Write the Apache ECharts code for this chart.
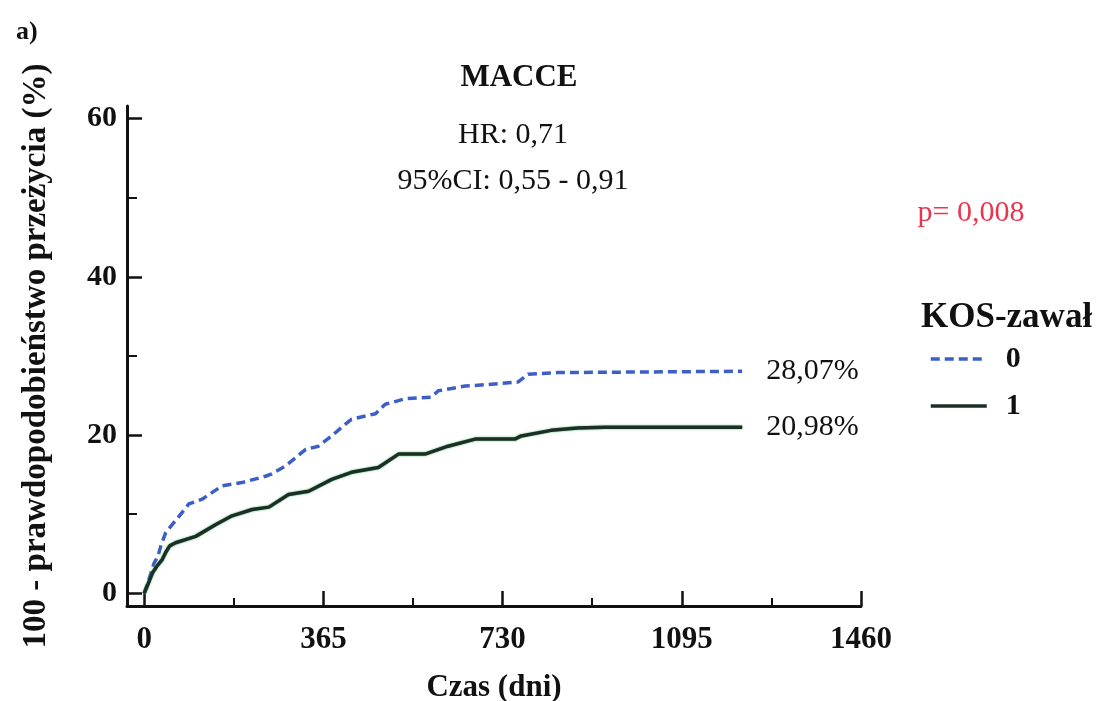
<!DOCTYPE html>
<html><head><meta charset="utf-8">
<script src="https://cdn.jsdelivr.net/npm/echarts@6/dist/echarts.min.js"></script>
<style>html,body{margin:0;padding:0;background:#fff}#c{width:1098px;height:701px}</style>
</head><body><div id="c"></div>
<script>
// Data (cumulative incidence, %)
const daysGroup0 = [0, 10, 20, 28, 34, 44, 64, 91, 118, 159, 199, 247, 260, 288, 329, 355, 382, 410, 422, 471, 491, 532, 585, 599, 654, 700, 761, 782, 843, 1218];
const valsGroup0 = [0, 1.8, 3.8, 4.7, 6.0, 7.7, 9.2, 11.3, 11.9, 13.6, 14.0, 14.8, 15.1, 16.1, 18.2, 18.6, 19.9, 21.4, 22.0, 22.7, 23.9, 24.6, 24.8, 25.6, 26.2, 26.4, 26.7, 27.7, 27.9, 28.07];
const daysGroup1 = [0, 10, 17, 28, 37, 44, 52, 64, 105, 146, 179, 220, 254, 294, 335, 382, 422, 477, 518, 572, 619, 674, 755, 768, 829, 883, 938, 1218];
const valsGroup1 = [0, 1.5, 2.6, 3.6, 4.3, 5.2, 6.0, 6.4, 7.2, 8.7, 9.8, 10.6, 10.9, 12.5, 12.9, 14.4, 15.3, 15.9, 17.6, 17.6, 18.6, 19.5, 19.5, 19.9, 20.6, 20.9, 21.0, 20.98];
const seriesNames = ['0', '1'];
const xTicks = [0, 365, 730, 1095, 1460];
const xMinorTicks = [182.5, 547.5, 912.5, 1277.5];
const yTicks = [0, 20, 40, 60];
const yMinorTicks = [10, 30, 50];

const F = '"Liberation Serif", "Times New Roman", serif';
const pairs = (xs, ys) => xs.map((x, i) => [x, ys[i]]);
const fmt = v => v.toFixed(2).replace('.', ',') + '%';

const chart = echarts.init(document.getElementById('c'));
chart.setOption({
  animation: false,
  backgroundColor: '#fff',
  textStyle: { fontFamily: F },
  title: [
    { text: 'MACCE', left: 514, top: 57, textAlign: 'center',
      textStyle: { fontFamily: F, fontSize: 31, fontWeight: 'bold', color: '#111' } }
  ],
  graphic: [
    { type: 'text', left: 16, top: 19, style: { text: 'a)', font: 'bold 26px ' + F, fill: '#111' } },
    { type: 'text', x: 513, y: 135, style: { text: 'HR: 0,71', font: '30px ' + F, fill: '#111', align: 'center', verticalAlign: 'middle' } },
    { type: 'text', x: 513, y: 181, style: { text: '95%CI: 0,55 - 0,91', font: '30px ' + F, fill: '#111', align: 'center', verticalAlign: 'middle' } },
    { type: 'text', x: 971, y: 213, style: { text: 'p= 0,008', font: '30px ' + F, fill: '#e8364e', align: 'center', verticalAlign: 'middle' } },
    { type: 'text', x: 921, y: 318, style: { text: 'KOS-zawał', font: 'bold 35px ' + F, fill: '#111', align: 'left', verticalAlign: 'middle' } }
  ],
  legend: {
    data: seriesNames, orient: 'vertical', left: 924, top: 339,
    itemWidth: 56, itemHeight: 24, itemGap: 17,
    itemStyle: { opacity: 0 },
    lineStyle: { width: 3.5 },
    textStyle: { fontFamily: F, fontSize: 30, fontWeight: 'bold', color: '#111', padding: [0, 0, 0, 14] }
  },
  grid: { left: 127, right: 237, top: 106, bottom: 95, containLabel: false, outerBoundsMode: 'none' },
  xAxis: [
    { type: 'value', min: -35, max: 1460,
      axisLine: { onZero: false, lineStyle: { color: '#111', width: 3 } },
      axisTick: { inside: true, length: 15, lineStyle: { color: '#111', width: 2.5 }, customValues: xTicks },
      axisLabel: { customValues: xTicks, formatter: v => String(v), margin: 18, fontFamily: F, fontSize: 31, fontWeight: 'bold', color: '#111' },
      splitLine: { show: false },
      name: 'Czas (dni)', nameLocation: 'middle', nameGap: 66,
      nameTextStyle: { fontFamily: F, fontSize: 31, fontWeight: 'bold', color: '#111' } },
    { type: 'value', min: -35, max: 1460, position: 'bottom',
      axisLine: { show: false, onZero: false },
      axisTick: { inside: true, length: 8, lineStyle: { color: '#111', width: 2 }, customValues: xMinorTicks },
      axisLabel: { show: false }, splitLine: { show: false } }
  ],
  yAxis: [
    { type: 'value', min: -1.6, max: 61.6,
      axisLine: { show: true, onZero: false, lineStyle: { color: '#111', width: 3 } },
      axisTick: { show: true, inside: true, length: 15, lineStyle: { color: '#111', width: 2.5 }, customValues: yTicks },
      axisLabel: { customValues: yTicks, formatter: v => String(v), margin: 10, fontFamily: F, fontSize: 30, fontWeight: 'bold', color: '#111' },
      splitLine: { show: false },
      name: '100 - prawdopodobieństwo przeżycia (%)', nameLocation: 'middle', nameGap: 74,
      nameTextStyle: { fontFamily: F, fontSize: 33, fontWeight: 'bold', color: '#111' } },
    { type: 'value', min: -1.6, max: 61.6, position: 'left',
      axisLine: { show: false, onZero: false },
      axisTick: { show: true, inside: true, length: 10, lineStyle: { color: '#111', width: 2 }, customValues: yMinorTicks },
      axisLabel: { show: false }, splitLine: { show: false } }
  ],
  series: [
    { name: seriesNames[0], type: 'line', data: pairs(daysGroup0, valsGroup0), showSymbol: false, symbol: 'none',
      lineStyle: { color: '#3b5fc6', width: 3.5, type: [9, 5] }, itemStyle: { color: '#3b5fc6' },
      endLabel: { show: true, distance: 24, formatter: p => fmt(p.value[1]), fontFamily: F, fontSize: 30, color: '#111' } },
    { name: seriesNames[1], type: 'line', data: pairs(daysGroup1, valsGroup1), showSymbol: false, symbol: 'none',
      lineStyle: { color: '#1d2e24', width: 3.5, shadowColor: 'rgba(40,170,90,0.9)', shadowBlur: 2 }, itemStyle: { color: '#1d2e24' },
      endLabel: { show: true, distance: 24, formatter: p => fmt(p.value[1]), fontFamily: F, fontSize: 30, color: '#111' } }
  ]
});
</script></body></html>
